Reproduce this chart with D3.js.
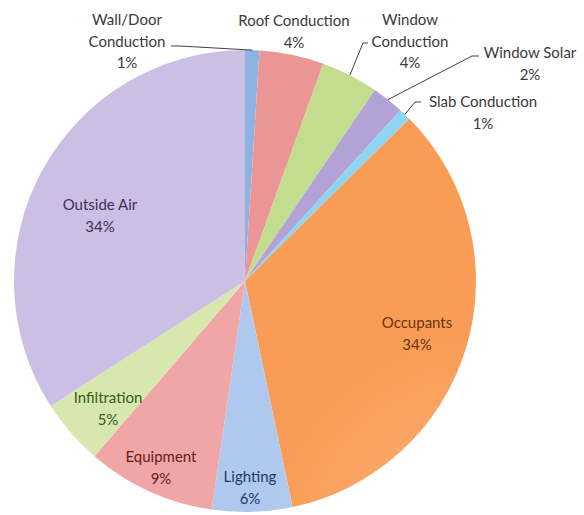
<!DOCTYPE html>
<html><head><meta charset="utf-8">
<script src="https://cdn.jsdelivr.net/npm/d3@7"></script>
<style>body{margin:0;background:#fff}svg{display:block}text{font-family:Lato,"Open Sans",sans-serif}</style>
</head><body><svg id="c" width="584" height="515"></svg>
<script>
const categories = ["Wall/Door Conduction","Roof Conduction","Window Conduction","Window Solar","Slab Conduction","Occupants","Lighting","Equipment","Infiltration","Outside Air"];
const values = [1.0, 4.5, 4.0, 2.25, 0.85, 34.1, 5.6, 9.0, 4.6, 34.1];
const pctLabels = ["1%","4%","4%","2%","1%","34%","6%","9%","5%","34%"];
const colors = ["#8db3e2","#eb9694","#c3dd8f","#b3a2d6","#8dd5f2","#f99c55","#afc8ee","#f0a6a6","#d6e8ad","#ccbfe5"];
const textColors = ["#3a3a3a","#3a3a3a","#3a3a3a","#3a3a3a","#3a3a3a","#6b3410","#1f3a66","#6b1a1a","#3b5a1a","#3f3151"];
const nameLines = [["Wall/Door","Conduction"],["Roof Conduction"],["Window","Conduction"],["Window Solar"],["Slab Conduction"],["Occupants"],["Lighting"],["Equipment"],["Infiltration"],["Outside Air"]];

const cx = 245, cy = 281, R = 231;
const svg = d3.select("#c");
const defs = svg.append("defs");
colors.forEach((c,i)=>{
  const g = defs.append("radialGradient").attr("id","g"+i).attr("gradientUnits","userSpaceOnUse")
    .attr("cx",cx).attr("cy",cy).attr("r",R);
  g.append("stop").attr("offset","0").attr("stop-color", d3.interpolateRgb(c,"#fff")(0.25));
  g.append("stop").attr("offset","1").attr("stop-color", c);
});
const pie = d3.pie().sort(null).value(d=>d)(values);
const arc = d3.arc().innerRadius(0).outerRadius(R);
const gp = svg.append("g").attr("transform",`translate(${cx},${cy})`);
gp.selectAll("path").data(pie).join("path").attr("d",arc).attr("fill",(d,i)=>`url(#g${i})`);

const place = [
  {x:127,y:20,leader:[[171,46],[180,46]]},
  {x:294,y:21},
  {x:410,y:20,leader:[[368,43],[363,43]]},
  {x:530,y:53,leader:[[479,56],[472,56]]},
  {x:483,y:102,leader:[[421,102],[415,102]]},
  {x:417,y:323},
  {x:250,y:477},
  {x:161,y:457},
  {x:108,y:398},
  {x:100,y:205}
];
const lh = 21.5;
pie.forEach((d,i)=>{
  const p = place[i];
  const lines = nameLines[i].concat([pctLabels[i]]);
  const t = svg.append("text").attr("text-anchor","middle").attr("font-size",15).attr("fill",textColors[i]);
  lines.forEach((l,k)=>{
    t.append("tspan").attr("x",p.x).attr("y",p.y + k*lh).attr("dy","0.35em").text(l);
  });
  if (p.leader){
    const mid = (d.startAngle+d.endAngle)/2;
    const ex = cx + R*Math.sin(mid), ey = cy - R*Math.cos(mid);
    const pts = p.leader.concat([[ex,ey]]);
    svg.append("path").attr("d", d3.line()(pts)).attr("fill","none").attr("stroke","#404040").attr("stroke-width",1);
  }
});
</script></body></html>
